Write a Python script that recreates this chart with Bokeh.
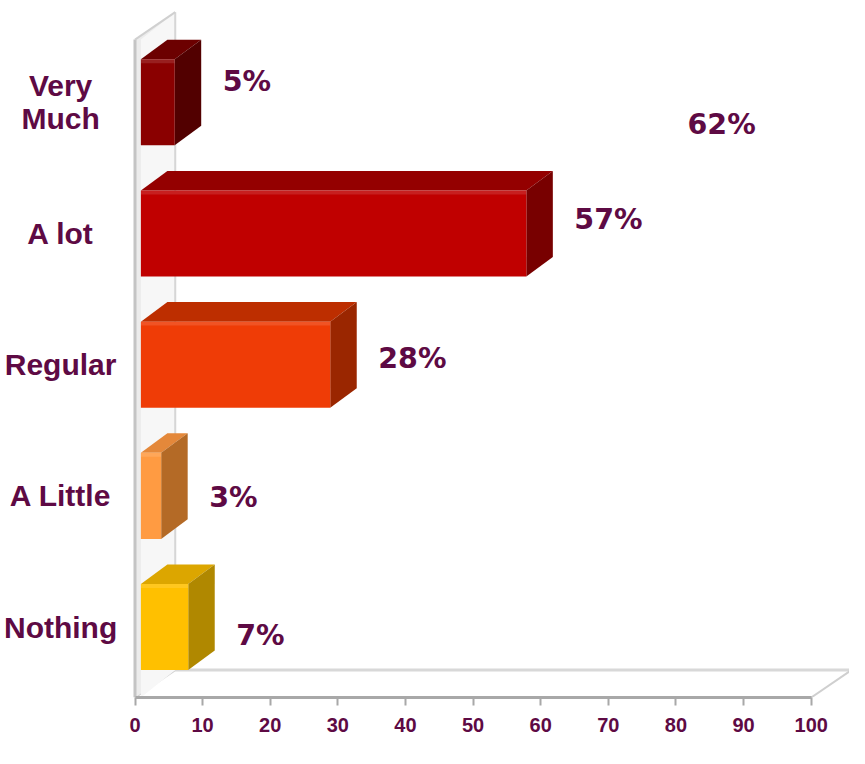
from bokeh.plotting import figure
from bokeh.models import Range1d, FixedTicker, ColumnDataSource
from bokeh.core.properties import value
from bokeh.embed import file_html
from bokeh.resources import INLINE

# ---------------- data ----------------
categories = ["Very\nMuch", "A lot", "Regular", "A Little", "Nothing"]
values = [5, 57, 28, 3, 7]
value_labels = ["5%", "57%", "28%", "3%", "7%"]
front_colors = ["#8a0000", "#c00000", "#ef3c06", "#ff9b42", "#ffc000"]
top_colors = ["#6c0000", "#940000", "#bd2e00", "#e4883a", "#dca600"]
side_colors = ["#520000", "#780000", "#9a2600", "#b46a26", "#b08800"]
x_ticks = [0, 10, 20, 30, 40, 50, 60, 70, 80, 90, 100]
stray_label = "62%"

# ---------------- layout constants ----------------
TEXT = "#5e0a44"
W, H = 849, 748
X_START, X_END = -19.89, 105.66
Y_BOTTOM, Y_TOP = 4.537, -0.776
WALL_T = 0.87          # wall thickness (x units)
DX_W, DY_W = 5.95, -0.209   # depth of wall / floor
WALL_TOP = -0.478
BAR_H = 0.328          # half height of bar front
BDX, BDY = 3.92, -0.149     # bar depth
LABEL_GAP = 7.1
CAT_X = -11.0

p = figure(width=W, height=H, output_backend="svg", toolbar_location=None,
           x_range=Range1d(X_START, X_END), y_range=Range1d(Y_BOTTOM, Y_TOP),
           min_border_left=0, min_border_right=0, min_border_top=0,
           min_border_bottom=51)
p.outline_line_color = None
p.grid.visible = False
p.yaxis.visible = False
p.background_fill_color = "white"

# floor
floor_x = [0, 100, 100 + DX_W, DX_W]
floor_y = [Y_BOTTOM, Y_BOTTOM, Y_BOTTOM + DY_W, Y_BOTTOM + DY_W]
p.patch(floor_x, floor_y, fill_color="white", line_color=None)
p.line([DX_W, 100 + DX_W], [Y_BOTTOM + DY_W] * 2, line_color="#d8d8d8", line_width=3)
p.line([100, 100 + DX_W], [Y_BOTTOM, Y_BOTTOM + DY_W], line_color="#cfcfcf", line_width=2)
p.line([0, DX_W], [Y_BOTTOM, Y_BOTTOM + DY_W], line_color="#d0d0d0", line_width=2)

# wall
wall_x = [0, 0, DX_W, DX_W]
wall_y = [Y_BOTTOM, WALL_TOP, WALL_TOP + DY_W, Y_BOTTOM + DY_W]
p.patch(wall_x, wall_y, fill_color="#ececec", line_color=None)
p.patch([WALL_T, WALL_T, DX_W, DX_W],
        [Y_BOTTOM, WALL_TOP, WALL_TOP + DY_W, Y_BOTTOM + DY_W],
        fill_color="#f7f7f7", line_color=None)
p.line([0, 0], [Y_BOTTOM, WALL_TOP], line_color="#c4c4c4", line_width=3)
p.line([DX_W, DX_W], [Y_BOTTOM + DY_W, WALL_TOP + DY_W], line_color="#d6d6d6", line_width=2)
p.line([0, DX_W], [WALL_TOP, WALL_TOP + DY_W], line_color="#d0d0d0", line_width=2)

# bars
idx = list(range(len(categories)))
x0 = [WALL_T] * len(values)
x1 = [WALL_T + v for v in values]
top = [i - BAR_H for i in idx]
bot = [i + BAR_H for i in idx]

top_xs = [[a, b, b + BDX, a + BDX] for a, b in zip(x0, x1)]
top_ys = [[t, t, t + BDY, t + BDY] for t in top]
side_xs = [[b, b + BDX, b + BDX, b] for b in x1]
side_ys = [[t, t + BDY, bb + BDY, bb] for t, bb in zip(top, bot)]

p.patches(top_xs, top_ys, fill_color=top_colors, line_color=None)
p.patches(side_xs, side_ys, fill_color=side_colors, line_color=None)
p.quad(left=x0, right=x1, top=top, bottom=bot, fill_color=front_colors, line_color=None)
# subtle highlight band on front top
p.quad(left=x0, right=x1, top=top, bottom=[t + 0.03 for t in top],
       fill_color="white", fill_alpha=0.12, line_color=None)

# category labels
cat_src = ColumnDataSource(dict(x=[CAT_X] * len(idx), y=idx, text=categories))
p.text(x="x", y="y", text="text", source=cat_src, text_align="center",
       text_baseline="middle", text_font=value("Liberation Sans"),
       text_font_style="bold", text_font_size="30px", text_color=TEXT,
       text_line_height=1.0)

# value labels
lab_src = ColumnDataSource(dict(x=[b + LABEL_GAP for b in x1],
                                y=[i * 1.057 - 0.16 for i in idx],
                                text=value_labels))
p.text(x="x", y="y", text="text", source=lab_src, text_align="left",
       text_baseline="middle", text_font=value("DejaVu Sans"),
       text_font_style="bold", text_font_size="28.5px", text_color=TEXT)

p.text(x=[81.7], y=[0.17], text=[stray_label], text_align="left",
       text_baseline="middle", text_font=value("DejaVu Sans"),
       text_font_style="bold", text_font_size="28.5px", text_color=TEXT)

# x axis
ax = p.xaxis[0]
ax.ticker = FixedTicker(ticks=x_ticks)
ax.bounds = (0, 100)
ax.axis_line_color = "#a8a8a8"
ax.axis_line_width = 3
ax.major_tick_line_color = "#a8a8a8"
ax.major_tick_line_width = 2
ax.major_tick_out = 8
ax.major_tick_in = 0
ax.minor_tick_line_color = None
ax.major_label_standoff = 12
ax.major_label_text_font = "Liberation Sans Narrow, Liberation Sans"
ax.major_label_text_font_style = "bold"
ax.major_label_text_font_size = "20px"
ax.major_label_text_color = TEXT

open("out.html", "w").write(file_html(p, INLINE))
